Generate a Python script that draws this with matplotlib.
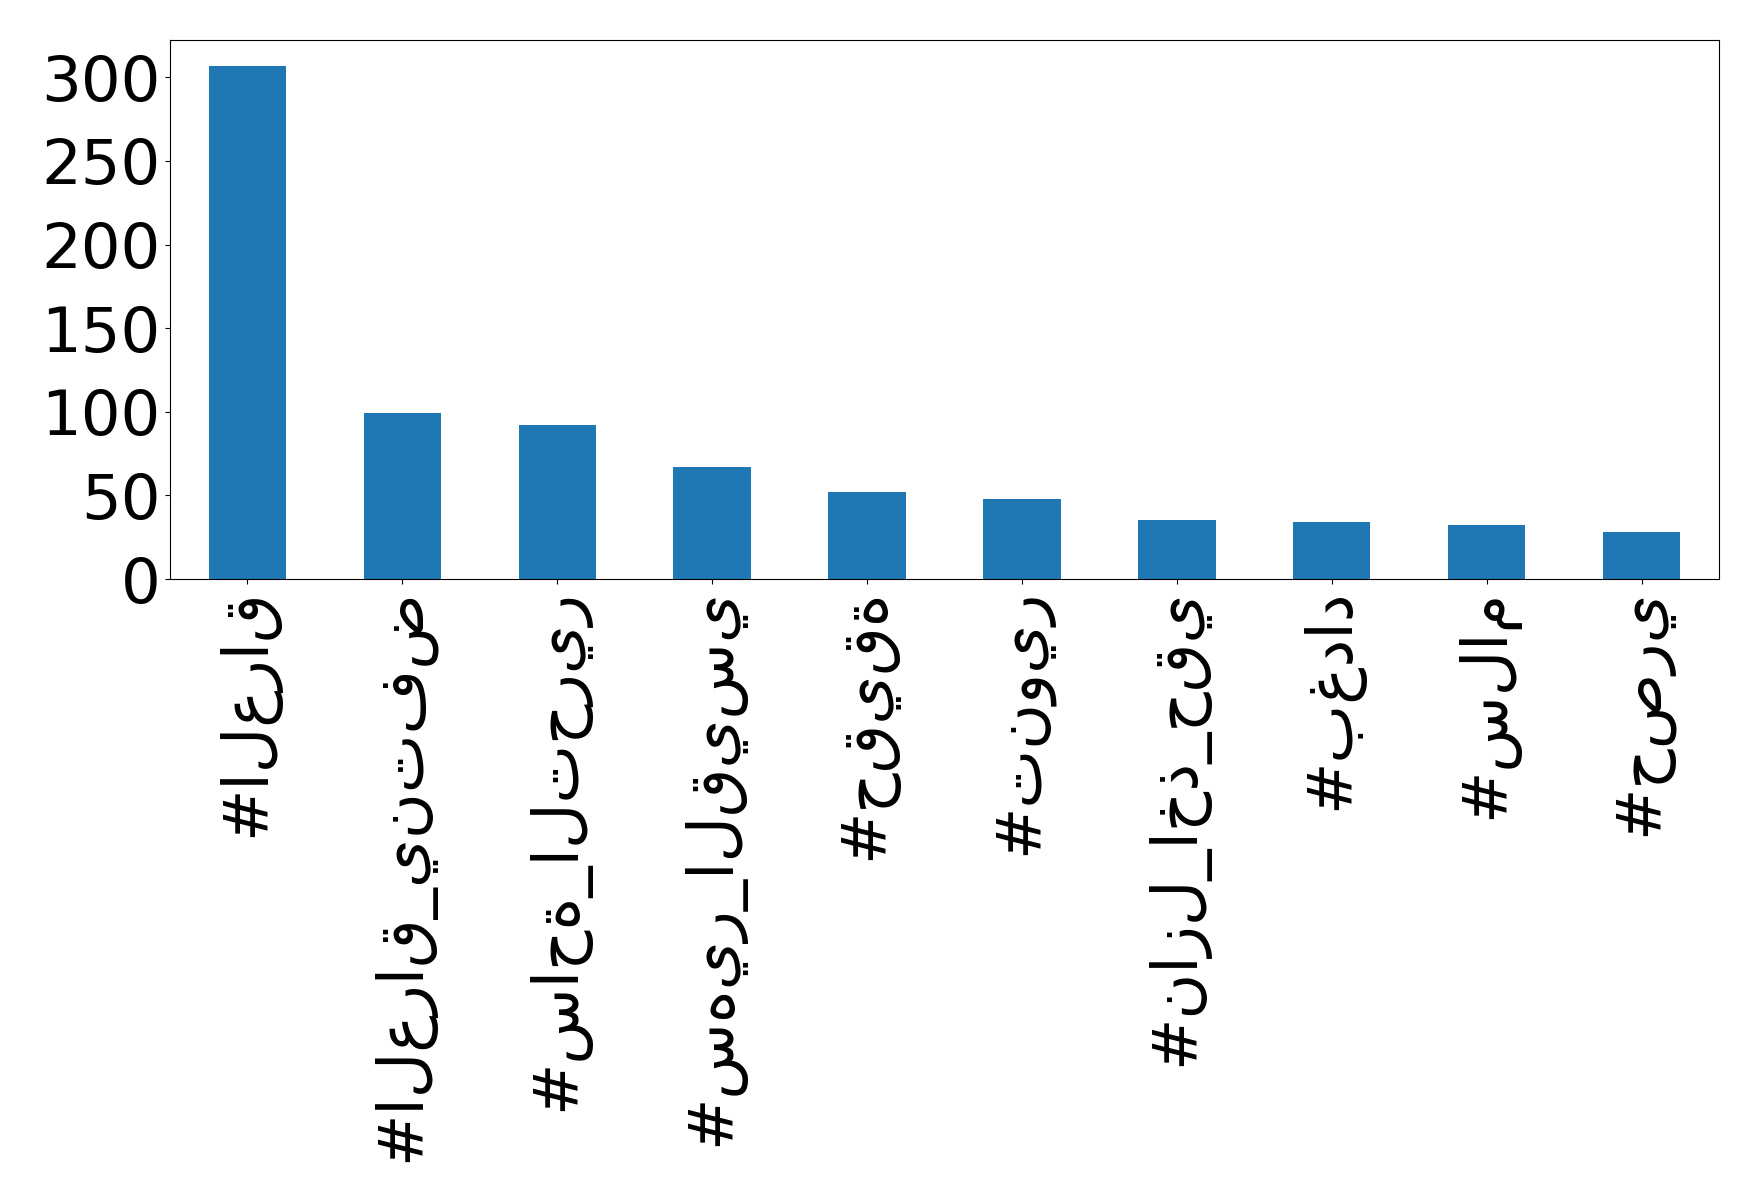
import matplotlib
matplotlib.use("Agg")
import matplotlib.pyplot as plt

hashtags = [
    "#العراق",
    "#العراق_ينتفض",
    "#ساحة_التحرير",
    "#سهير_القيسي",
    "#حقيقة",
    "#تنوير",
    "#نازل_اخذ_حقي",
    "#بغداد",
    "#سلام",
    "#حصري",
]
counts = [307, 99, 92, 67, 52, 48, 35, 34, 32, 28]

plt.rcParams["font.family"] = ["DejaVu Sans"]

fig = plt.figure(figsize=(17.59, 12.02), dpi=100)
ax = fig.add_axes([170 / 1759, 1 - 579 / 1202, (1719 - 170) / 1759, (579 - 40) / 1202])

x = list(range(len(hashtags)))
ax.bar(x, counts, width=0.5, color="#1f77b4")
ax.set_xlim(-0.5, len(hashtags) - 0.5)
ax.set_ylim(0, max(counts) * 1.05)
ax.set_xticks(x)
ax.set_xticklabels(hashtags, rotation=90, fontsize=45)
ax.set_yticks([0, 50, 100, 150, 200, 250, 300])
ax.tick_params(axis="y", labelsize=45)

fig.savefig("out.png", dpi=100)
